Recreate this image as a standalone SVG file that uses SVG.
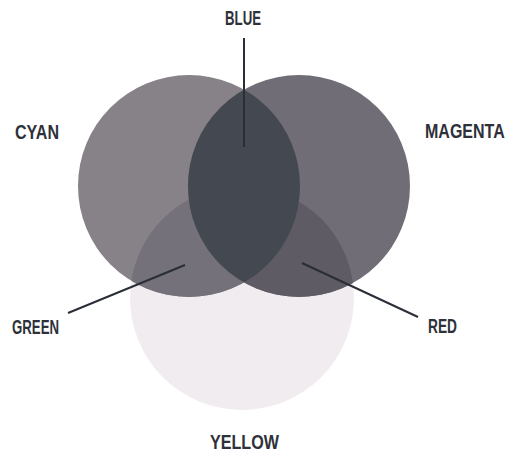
<svg xmlns="http://www.w3.org/2000/svg" width="514" height="455" viewBox="0 0 514 455">
<style>
.lbl{font-family:"Liberation Sans","DejaVu Sans",sans-serif;font-weight:700;font-size:20px;fill:#2e3139}
.con{stroke:#2a2e36;stroke-width:2;fill:none}
</style>
<defs>
<clipPath id="cC"><circle cx="189" cy="186" r="111"/></clipPath>
<clipPath id="cM"><circle cx="299" cy="186" r="111"/></clipPath>
</defs>
<rect width="514" height="455" fill="#ffffff"/>
<g id="yellow"><circle cx="242" cy="298" r="112" fill="#f1ecf0"/></g>
<g id="cyan"><circle cx="189" cy="186" r="111" fill="#878288"/></g>
<g id="magenta"><circle cx="299" cy="186" r="111" fill="#706d77"/></g>
<g id="green"><circle cx="242" cy="298" r="112" fill="#74717a" clip-path="url(#cC)"/></g>
<g id="red"><circle cx="242" cy="298" r="112" fill="#5e5b65" clip-path="url(#cM)"/></g>
<g id="blue"><circle cx="299" cy="186" r="111" fill="#444850" clip-path="url(#cC)"/></g>
<g id="connectors">
<line class="con" x1="244" y1="38" x2="244" y2="147"/>
<line class="con" x1="68" y1="313" x2="185" y2="265"/>
<line class="con" x1="302" y1="263" x2="418" y2="317"/>
</g>
<g id="labels">
<text class="lbl" x="225" y="25" textLength="36" lengthAdjust="spacingAndGlyphs">BLUE</text>
<text class="lbl" x="15" y="139" textLength="44" lengthAdjust="spacingAndGlyphs">CYAN</text>
<text class="lbl" x="425" y="110.4" style="font-size:16px" transform="scale(1,1.25)">MAGENTA</text>
<text class="lbl" x="12" y="334" textLength="47" lengthAdjust="spacingAndGlyphs">GREEN</text>
<text class="lbl" x="428" y="333" textLength="29" lengthAdjust="spacingAndGlyphs">RED</text>
<text class="lbl" x="210" y="449" textLength="69" lengthAdjust="spacingAndGlyphs">YELLOW</text>
</g>
</svg>
